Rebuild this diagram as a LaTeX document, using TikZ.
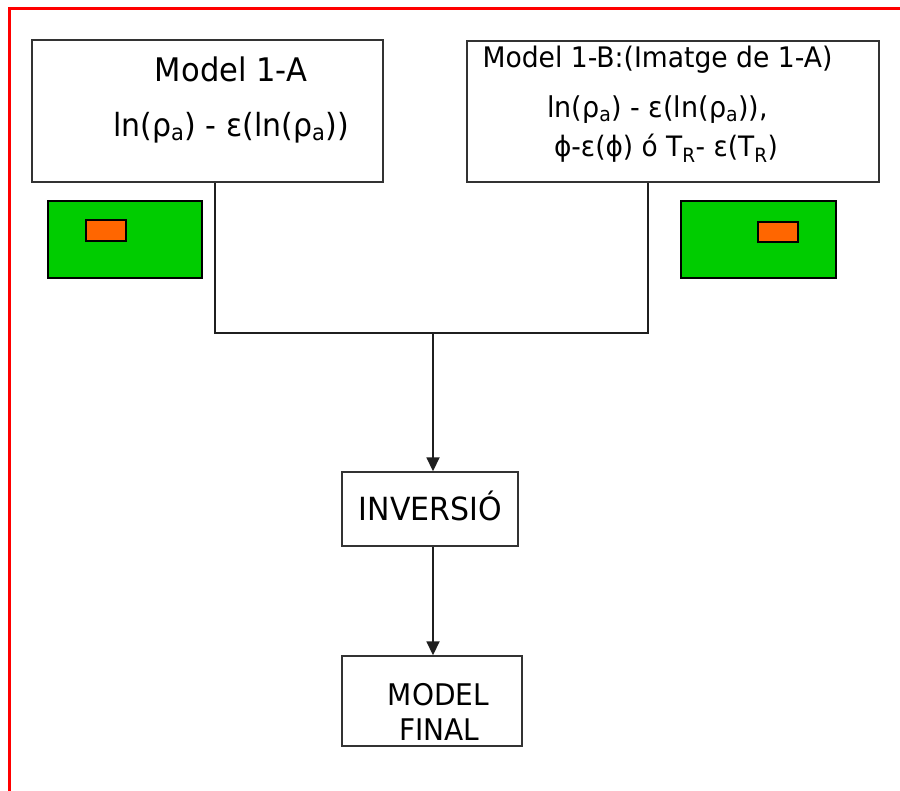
\documentclass[tikz,border=0pt]{standalone}
\usepackage{fontspec}
\setmainfont{DejaVu Sans}[FakeStretch=0.94]
\usetikzlibrary{arrows.meta,calc}
\definecolor{framered}{HTML}{FF0000}
\definecolor{fieldgreen}{HTML}{00CC00}
\definecolor{bodyorange}{HTML}{FF6600}
\definecolor{linegray}{HTML}{333333}
\newcommand\lowidx[1]{\textsubscript{#1}}
\tikzset{
  panel/.style={draw=linegray, line width=1.4pt, fill=white, inner sep=0pt},
  txt/.style={anchor=base, inner sep=0pt, text=black},
  field/.style={draw=black, line width=1.4pt, fill=fieldgreen},
  body/.style={draw=black, line width=1.4pt, fill=bodyorange},
  wire/.style={draw=linegray!60!black, line width=1.8pt},
  flow/.style={wire, -{Triangle[length=14pt,width=13pt]}}
}
\begin{document}
\begin{tikzpicture}[x=1pt,y=-1pt]
\useasboundingbox (0,0) rectangle (900,791);
% frame along the top and left edges
\draw[framered, line width=3.2pt] (9.5,791) -- (9.5,8.5) -- (900,8.5);

% model boxes
\node[panel, minimum width=351pt, minimum height=142pt] (A) at (207.5,111) {};
\node[panel, minimum width=412pt, minimum height=141pt] (B) at (673,111.5) {};
\node[txt, font=\fontsize{32.5}{32.5}\selectfont] (At) at (231,82) {Model 1-A};
\node[txt, font=\fontsize{31.9}{31.9}\selectfont] (Af) at (231,137) {ln(ρ\lowidx{a}) - ε(ln(ρ\lowidx{a}))};
\node[txt, font=\fontsize{28.3}{28.3}\selectfont] (Bt) at (657.5,68) {Model 1-B:(Imatge de 1-A)};
\node[txt, font=\fontsize{28.7}{28.7}\selectfont] (Bf) at (657.5,118) {ln(ρ\lowidx{a}) - ε(ln(ρ\lowidx{a})),};
\node[txt, font=\fontsize{28.1}{28.1}\selectfont] (Bg) at (666,157) {ϕ-ε(ϕ) ó T\lowidx{R}- ε(T\lowidx{R})};

% field sketches
\draw[field] (48,201) rectangle (202,278);
\draw[body] (86,220) rectangle (126,241);
\draw[field] (681,201) rectangle (836,278);
\draw[body] (758,222) rectangle (798,242);

% process boxes
\node[panel, minimum width=176pt, minimum height=74pt] (inv) at (430,509) {};
\node[txt, font=\fontsize{31.9}{31.9}\selectfont] (invt) at (430.5,520) {INVERSIÓ};
\node[panel, minimum width=180pt, minimum height=90pt] (fin) at (432,701) {};
\node[txt, font=\fontsize{29.8}{29.8}\selectfont] (fint) at (438.5,705) {MODEL};
\node[txt, font=\fontsize{29.8}{29.8}\selectfont] (finu) at (439.5,740) {FINAL};

% connectors
\coordinate (ja) at ($(A.south west)+(184,0)$);
\coordinate (jb) at ($(B.south west)+(182,0)$);
\coordinate (jm) at (433,333);
\draw[wire] (ja) |- (jm) -| (jb);
\draw[flow] (jm) -- (jm |- inv.north);
\draw[flow] (inv.south -| jm) -- (jm |- fin.north);
\end{tikzpicture}
\end{document}
